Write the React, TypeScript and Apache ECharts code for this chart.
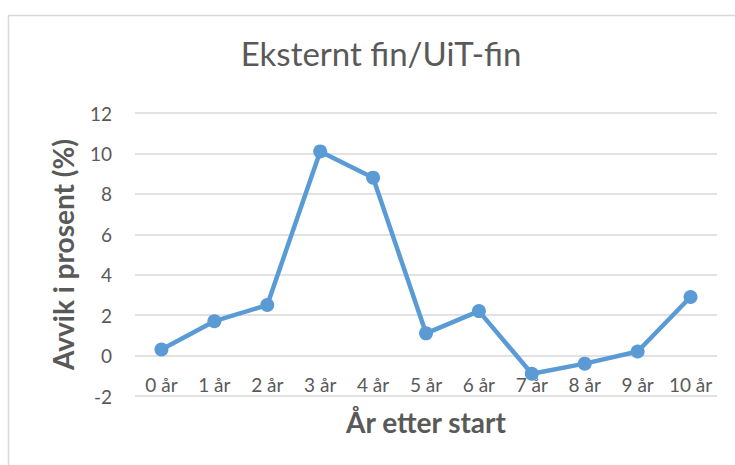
import React, { useEffect, useRef } from "react";
import * as echarts from "echarts";

const categories = ["0 år", "1 år", "2 år", "3 år", "4 år", "5 år", "6 år", "7 år", "8 år", "9 år", "10 år"];
const values = [0.3, 1.7, 2.5, 10.1, 8.8, 1.1, 2.2, -0.9, -0.4, 0.2, 2.9];
const chartTitle = "Eksternt fin/UiT-fin";
const xTitle = "År etter start";
const yTitle = "Avvik i prosent (%)";
const yMin = -2;
const yMax = 12;
const yStep = 2;

const FONT = "Lato, 'Open Sans', sans-serif";
const TEXT = "#595959";

export default function App() {
  const ref = useRef<HTMLDivElement>(null);
  useEffect(() => {
    document.body.style.margin = "0";
    if (!ref.current) return;
    const chart = echarts.init(ref.current, null, { renderer: "svg" });
    chart.setOption({
      animation: false,
      backgroundColor: "#ffffff",
      title: {
        text: chartTitle,
        left: 376,
        textAlign: "center",
        top: 31,
        textStyle: { fontFamily: FONT, fontSize: 33, fontWeight: "normal", color: TEXT },
      },
      graphic: [
        {
          type: "rect",
          shape: { x: 8.5, y: 15.5, width: 740, height: 470 },
          style: { fill: "none", stroke: "#d9d9d9", lineWidth: 1.5 },
          silent: true,
          z: -1,
        },
      ],
      grid: { left: 135, right: 18, top: 113, bottom: 69, containLabel: false },
      xAxis: {
        type: "category",
        data: categories,
        boundaryGap: true,
        name: xTitle,
        nameLocation: "middle",
        nameGap: 12,
        nameTextStyle: { fontFamily: FONT, fontSize: 28, fontWeight: "bold", color: TEXT },
        axisLine: { show: false },
        axisTick: { show: false },
        axisLabel: {
          inside: true,
          margin: 2,
          fontFamily: FONT,
          fontSize: 19,
          color: TEXT,
          interval: 0,
        },
      },
      yAxis: {
        type: "value",
        min: yMin,
        max: yMax,
        interval: yStep,
        name: yTitle,
        nameLocation: "middle",
        nameGap: 58,
        nameRotate: 90,
        nameTextStyle: { fontFamily: FONT, fontSize: 28, fontWeight: "bold", color: TEXT },
        axisLine: { show: false },
        axisTick: { show: false },
        axisLabel: { margin: 23, fontFamily: FONT, fontSize: 19, color: TEXT },
        splitLine: { lineStyle: { color: "#d9d9d9", width: 1.5 } },
      },
      series: [
        {
          type: "line",
          data: values,
          symbol: "circle",
          symbolSize: 14,
          lineStyle: { color: "#5b9bd5", width: 4.5 },
          itemStyle: { color: "#5b9bd5" },
        },
      ],
    });
    return () => chart.dispose();
  }, []);
  return <div ref={ref} style={{ width: 735, height: 465 }} />;
}
